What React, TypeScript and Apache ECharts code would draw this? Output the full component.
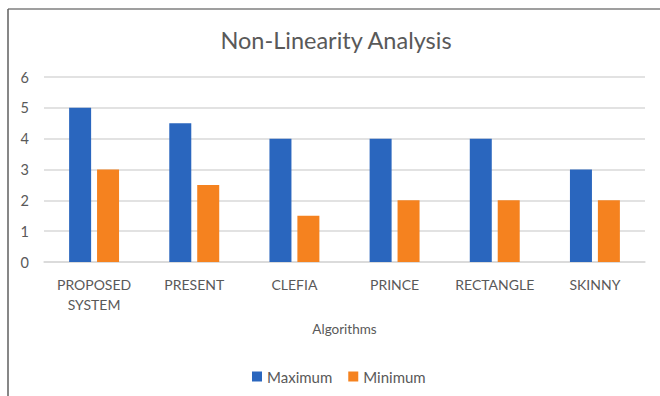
import React, { useEffect, useRef } from "react";
import * as echarts from "echarts";

const categories = ["PROPOSED\nSYSTEM", "PRESENT", "CLEFIA", "PRINCE", "RECTANGLE", "SKINNY"];
const maximumValues = [5, 4.5, 4, 4, 4, 3];
const minimumValues = [3, 2.5, 1.5, 2, 2, 2];
const yTicks = { min: 0, max: 6, interval: 1 };

const FONT = "Lato, 'Open Sans', sans-serif";
const TEXT = "#595959";

export default function App() {
  const ref = useRef<HTMLDivElement>(null);

  useEffect(() => {
    if (!ref.current) return;
    const chart = echarts.init(ref.current, undefined, { renderer: "svg" });
    chart.setOption({
      animation: false,
      backgroundColor: "#ffffff",
      title: {
        text: "Non-Linearity Analysis",
        left: 331,
        top: 23,
        textAlign: "center",
        textStyle: { fontFamily: FONT, fontSize: 23.5, fontWeight: "normal", color: TEXT },
      },
      legend: {
        data: ["Maximum", "Minimum"],
        left: 247,
        top: 364,
        itemWidth: 10,
        itemHeight: 10,
        itemGap: 16,
        icon: "rect",
        textStyle: { fontFamily: FONT, fontSize: 15, color: TEXT },
      },
      grid: { left: 44, right: 15, top: 77, bottom: 134 },
      xAxis: {
        type: "category",
        data: categories,
        name: "Algorithms",
        nameLocation: "middle",
        nameGap: 60,
        nameTextStyle: { fontFamily: FONT, fontSize: 13.5, color: TEXT },
        axisLine: { lineStyle: { color: "#d9d9d9", width: 1.5 } },
        axisTick: { show: false },
        axisLabel: {
          fontFamily: FONT,
          fontSize: 14,
          color: TEXT,
          margin: 12,
          lineHeight: 20,
          interval: 0,
        },
      },
      yAxis: {
        type: "value",
        min: yTicks.min,
        max: yTicks.max,
        interval: yTicks.interval,
        axisLine: { show: false },
        axisTick: { show: false },
        splitLine: { lineStyle: { color: "#d9d9d9", width: 1.5 } },
        axisLabel: { fontFamily: FONT, fontSize: 14.5, color: TEXT, margin: 15 },
      },
      series: [
        {
          name: "Maximum",
          type: "bar",
          data: maximumValues,
          barWidth: 22,
          barGap: "27%",
          itemStyle: { color: "#2A66BE" },
        },
        {
          name: "Minimum",
          type: "bar",
          data: minimumValues,
          barWidth: 22,
          itemStyle: { color: "#F5821F" },
        },
      ],
      graphic: [
        {
          type: "line",
          shape: { x1: 8, y1: 9, x2: 660, y2: 9 },
          style: { stroke: "#7f7f7f", lineWidth: 1.5 },
        },
        {
          type: "line",
          shape: { x1: 8, y1: 9, x2: 8, y2: 396 },
          style: { stroke: "#5f5f5f", lineWidth: 1.5 },
        },
      ],
    });
    return () => chart.dispose();
  }, []);

  return <div ref={ref} style={{ width: 660, height: 396, position: "absolute", left: 0, top: 0 }} />;
}
